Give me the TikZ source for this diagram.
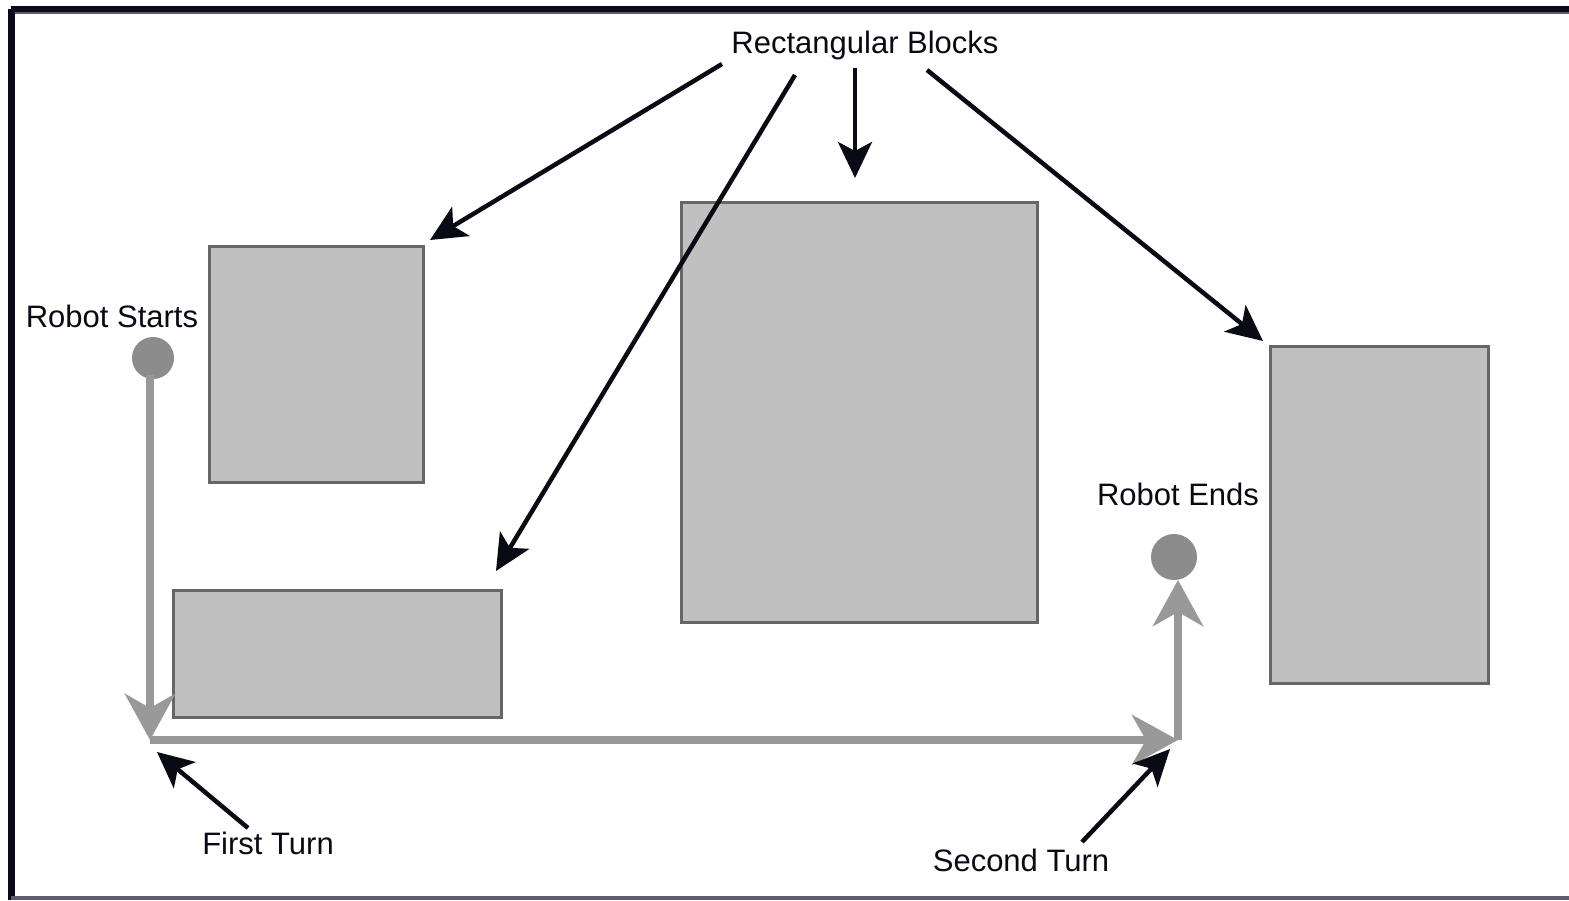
\documentclass[tikz,border=0pt]{standalone}
\usepackage{fontspec}
\setmainfont{Liberation Sans}
\usetikzlibrary{arrows.meta}
\definecolor{blockfill}{HTML}{C0C0C0}
\definecolor{blockedge}{HTML}{666666}
\definecolor{pathgray}{HTML}{999999}
\definecolor{dotgray}{HTML}{8C8C8C}
\definecolor{frameink}{HTML}{0A0A18}
\definecolor{frameline}{HTML}{5C5C6C}
\definecolor{ink}{HTML}{0A0A14}
\begin{document}
\begin{tikzpicture}[x=1pt,y=-1pt,
  block/.style={draw=blockedge,fill=blockfill,line width=3pt,inner sep=0pt,outer sep=0pt},
  label/.style={font=\fontsize{31}{37}\selectfont,text=ink,inner sep=0pt},
  callout/.style={draw=ink,line width=4.5pt,-{Stealth[length=36pt,width=34pt,inset=9pt]}},
  route/.style={draw=pathgray,line width=8pt,-{Stealth[length=46pt,width=50pt,inset=14pt]}},
  robot/.style={circle,fill=dotgray,inner sep=0pt,minimum size=#1}
]
\useasboundingbox (0,0) rectangle (1569,900);
\fill[white] (0,0) rectangle (1569,900);
% frame
\draw[frameink,line width=6pt] (11,9) -- (1575,9);
\draw[frameline,line width=2.5pt] (14,13) -- (1575,13);
\draw[frameink,line width=7pt] (11,9) -- (11,900);
\draw[frameline,line width=4pt] (11,898) -- (1575,898);

% blocks
\node[block,minimum width=214pt,minimum height=236pt] (b1) at (316,364) {};
\node[block,minimum width=328pt,minimum height=127pt] (b2) at (337,653.5) {};
\node[block,minimum width=356pt,minimum height=420pt] (b3) at (859,412) {};
\node[block,minimum width=218pt,minimum height=337pt] (b4) at (1379,514.5) {};

% robot
\node[robot=42pt] (start) at (153,358) {};
\node[robot=46pt] (finish) at (1174,557) {};
\coordinate (turn1) at (150,740);
\coordinate (turn2) at (1178,740);
\coordinate (s0) at (150,375);
\coordinate (f0) at (1178,580);

\draw[route] (s0) -- (turn1);
\draw[route] (turn1) -- (turn2);
\draw[route] (turn2) -- (f0);

% labels
\node[label] (rb) at (865,45) {Rectangular Blocks};
\node[label] (rs) at (112,316) {Robot Starts};
\node[label] (re) at (1178,494) {Robot Ends};
\node[label] (ft) at (268,843) {First Turn};
\node[label] (st) at (1021,860) {Second Turn};

% callouts
\coordinate (a1s) at (722,64);  \coordinate (a1e) at (430,240);
\coordinate (a2s) at (795,75);  \coordinate (a2e) at (496,571);
\coordinate (a3s) at (855,68);  \coordinate (a3e) at (855,178);
\coordinate (a4s) at (927,70);  \coordinate (a4e) at (1263,341);
\coordinate (a5s) at (248,828); \coordinate (a5e) at (157,752);
\coordinate (a6s) at (1082,842); \coordinate (a6e) at (1170,749);
\draw[callout] (a1s) -- (a1e);
\draw[callout] (a2s) -- (a2e);
\draw[callout] (a3s) -- (a3e);
\draw[callout] (a4s) -- (a4e);
\draw[callout] (a5s) -- (a5e);
\draw[callout] (a6s) -- (a6e);
\end{tikzpicture}
\end{document}
